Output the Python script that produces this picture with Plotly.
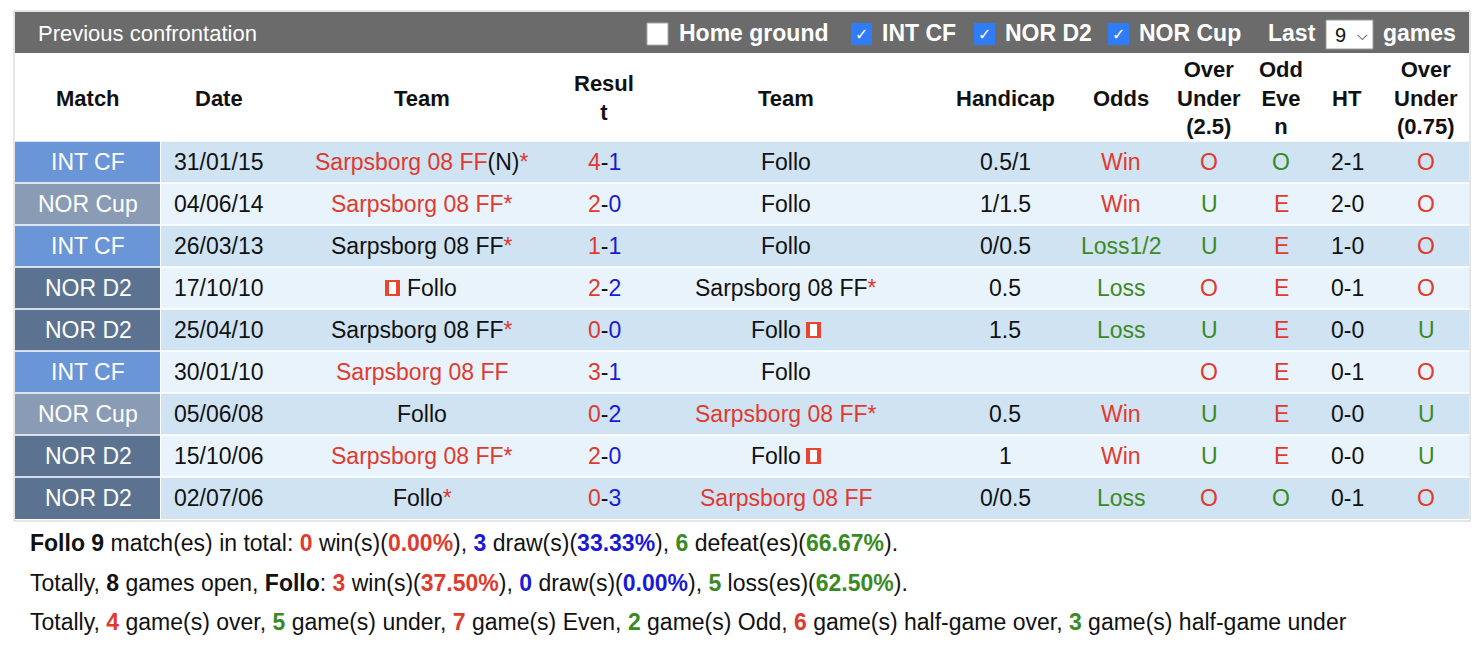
import plotly.graph_objects as go

RED = "#e03a2f"
BLUE = "#1a1ad6"
GREEN = "#3a8a24"
BLACK = "#111111"

headers = ["Match", "Date", "Team", "Resul<br>t", "Team", "Handicap", "Odds",
           "Over<br>Under<br>(2.5)", "Odd<br>Eve<br>n", "HT", "Over<br>Under<br>(0.75)"]
col_x = [88, 219, 422, 604, 786, 1005, 1121, 1209, 1281, 1347, 1426]

match = ["INT CF", "NOR Cup", "INT CF", "NOR D2", "NOR D2", "INT CF", "NOR Cup", "NOR D2", "NOR D2"]
dates = ["31/01/15", "04/06/14", "26/03/13", "17/10/10", "25/04/10", "30/01/10", "05/06/08", "15/10/06", "02/07/06"]
home = ["Sarpsborg 08 FF", "Sarpsborg 08 FF", "Sarpsborg 08 FF", "Follo", "Sarpsborg 08 FF",
        "Sarpsborg 08 FF", "Follo", "Sarpsborg 08 FF", "Follo"]
home_suffix = ["(N)*", "*", "*", "", "*", "", "", "*", "*"]
home_red = [True, True, False, False, False, True, False, True, False]
away = ["Follo", "Follo", "Follo", "Sarpsborg 08 FF", "Follo", "Follo", "Sarpsborg 08 FF", "Follo", "Sarpsborg 08 FF"]
away_suffix = ["", "", "", "*", "", "", "*", "", ""]
away_red = [False, False, False, False, False, False, True, False, True]
home_goals = [4, 2, 1, 2, 0, 3, 0, 2, 0]
away_goals = [1, 0, 1, 2, 0, 1, 2, 0, 3]
home_flag = [False, False, False, True, False, False, False, False, False]
away_flag = [False, False, False, False, True, False, False, True, False]
handicap = ["0.5/1", "1/1.5", "0/0.5", "0.5", "1.5", "", "0.5", "1", "0/0.5"]
odds = ["Win", "Win", "Loss1/2", "Loss", "Loss", "", "Win", "Win", "Loss"]
ou25 = ["O", "U", "U", "O", "U", "O", "U", "U", "O"]
oe = ["O", "E", "E", "E", "E", "E", "E", "E", "O"]
ht = ["2-1", "2-0", "1-0", "0-1", "0-0", "0-1", "0-0", "0-0", "0-1"]
ou075 = ["O", "O", "O", "O", "U", "O", "U", "U", "O"]

summary = [
    "<b>Follo</b> <b>9</b> match(es) in total: <b style='color:#e03a2f'>0</b> win(s)(<b style='color:#e03a2f'>0.00%</b>), "
    "<b style='color:#1a1ad6'>3</b> draw(s)(<b style='color:#1a1ad6'>33.33%</b>), "
    "<b style='color:#3a8a24'>6</b> defeat(es)(<b style='color:#3a8a24'>66.67%</b>).",
    "Totally, <b>8</b> games open, <b>Follo</b>: <b style='color:#e03a2f'>3</b> win(s)(<b style='color:#e03a2f'>37.50%</b>), "
    "<b style='color:#1a1ad6'>0</b> draw(s)(<b style='color:#1a1ad6'>0.00%</b>), "
    "<b style='color:#3a8a24'>5</b> loss(es)(<b style='color:#3a8a24'>62.50%</b>).",
    "Totally, <b style='color:#e03a2f'>4</b> game(s) over, <b style='color:#3a8a24'>5</b> game(s) under, "
    "<b style='color:#e03a2f'>7</b> game(s) Even, <b style='color:#3a8a24'>2</b> game(s) Odd, "
    "<b style='color:#e03a2f'>6</b> game(s) half-game over, <b style='color:#3a8a24'>3</b> game(s) half-game under",
]

match_colors = {"INT CF": "#6a95d6", "NOR Cup": "#8a9cb5", "NOR D2": "#5b7391"}
row_colors = ["#cfe3f3", "#e9f3fb"]

shapes = []
ann = []
FONT = "Liberation Sans, Arial, sans-serif"
FS = 23

def txt(x, y, s, size=FS, color=BLACK, xanchor="center", family=FONT):
    ann.append(dict(x=x, y=y, text=s, showarrow=False, xanchor=xanchor, yanchor="middle",
                    font=dict(size=size, color=color, family=family)))

def rect(x0, y0, x1, y1, fill, line=None):
    shapes.append(dict(type="rect", x0=x0, y0=y0, x1=x1, y1=y1, fillcolor=fill,
                       line=dict(width=1 if line else 0, color=line or fill), layer="below"))

# outer border and title bar
rect(14, 11, 1470, 521, "white", "#cccccc")
rect(15, 12, 1469, 53, "#6b6b6b")
txt(36, 33, "Previous confrontation", size=22, color="white", xanchor="left")
rect(647, 23, 668, 45, "white", "#aaaaaa")
txt(677, 33, "<b>Home ground</b>", color="white", xanchor="left")
for bx, lab in [(851, "INT CF"), (974, "NOR D2"), (1108, "NOR Cup")]:
    rect(bx, 23, bx + 21, 45, "#2f7cf6")
    txt(bx + 10.5, 34, "✓", size=16, color="white", family="DejaVu Sans")
    txt(bx + 29, 33, "<b>" + lab + "</b>", color="white", xanchor="left")
txt(1266, 33, "<b>Last</b>", color="white", xanchor="left")
rect(1326, 20, 1373, 49, "white", "#999999")
txt(1340, 35, "9", size=20)
txt(1362, 35, "⌵", size=14, family="DejaVu Sans")
txt(1381, 33, "<b>games</b>", color="white", xanchor="left")

# headers
for x, h in zip(col_x, headers):
    txt(x, 98, "<b>" + h + "</b>", size=22)

# rows
row_h = 42
for i in range(len(match)):
    y0 = 141 + i * row_h
    yc = y0 + row_h / 2
    rect(161, y0, 1469, y0 + row_h, row_colors[i % 2])
    rect(15, y0, 160, y0 + row_h, match_colors[match[i]])
    shapes.append(dict(type="line", x0=15, x1=1469, y0=y0, y1=y0, line=dict(color="white", width=1.5)))
    txt(col_x[0], yc, match[i], color="white")
    txt(col_x[1], yc, dates[i])
    for cx, name, suf, flag, red in [(col_x[2], home[i], home_suffix[i], home_flag[i], home_red[i]),
                                     (col_x[4], away[i], away_suffix[i], away_flag[i], away_red[i])]:
        c = RED if red else BLACK
        if suf == "(N)*":
            s = f"<span style='color:{c}'>{name}</span>(N)<span style='color:{RED}'>*</span>"
        elif suf:
            s = f"<span style='color:{c}'>{name}</span><span style='color:{RED}'>*</span>"
        else:
            s = f"<span style='color:{c}'>{name}</span>"
        if flag:
            if cx == col_x[2]:
                fx = cx - 37
                txt(cx + 10, yc, s)
            else:
                fx = cx + 20
                txt(cx - 10, yc, s)
            rect(fx, yc - 8, fx + 15, yc + 8, "#e8442e")
            rect(fx + 4, yc - 6, fx + 11, yc + 6, "white")
        else:
            txt(cx, yc, s)
    txt(col_x[3], yc, f"<span style='color:{RED}'>{home_goals[i]}</span>-"
        f"<span style='color:{BLUE}'>{away_goals[i]}</span>")
    txt(col_x[5], yc, handicap[i])
    txt(col_x[6], yc, odds[i], color=RED if odds[i] == "Win" else GREEN)
    txt(col_x[7], yc, ou25[i], color=RED if ou25[i] == "O" else GREEN)
    txt(col_x[8], yc, oe[i], color=RED if oe[i] == "E" else GREEN)
    txt(col_x[9], yc, ht[i])
    txt(col_x[10], yc, ou075[i], color=RED if ou075[i] == "O" else GREEN)

# summary lines
for k, s in enumerate(summary):
    txt(28, 543 + k * 39.5, s, size=23, xanchor="left")

fig = go.Figure()
# the page body adds an 8px margin, so the axis ranges are offset by it
fig.update_layout(
    width=1484, height=662, margin=dict(l=0, r=0, t=0, b=0),
    paper_bgcolor="white", plot_bgcolor="white",
    xaxis=dict(range=[8, 1492], visible=False, fixedrange=True),
    yaxis=dict(range=[670, 8], visible=False, fixedrange=True),
    shapes=shapes, annotations=ann, showlegend=False,
)
fig.write_html("out.html", config={"displayModeBar": False})
